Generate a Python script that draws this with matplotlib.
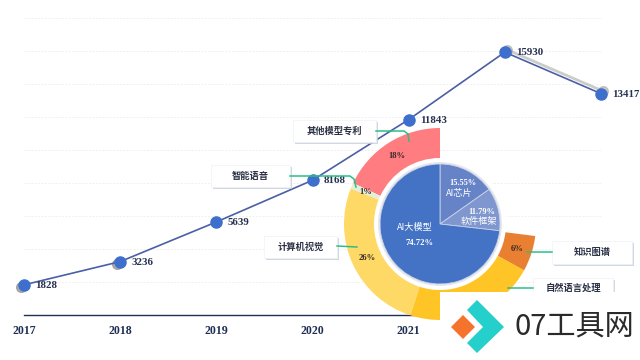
import matplotlib
matplotlib.use('Agg')
import matplotlib.pyplot as plt
import matplotlib.patheffects as pe
from matplotlib.patches import Circle, Polygon, Rectangle
from matplotlib.transforms import ScaledTranslation

plt.rcParams['font.family'] = ['Noto Sans CJK SC', 'DejaVu Sans']

# Patent counts per year
years = ['2017', '2018', '2019', '2020', '2021', '2022', '2023']
patents = [1828, 3236, 5639, 8168, 11843, 15930, 13417]
grid_values = list(range(0, 18001, 2000))

# Outer ring, share of the whole circle (the rest stays empty)
ring_names = ['其他模型专利', '智能语音', '计算机视觉', '自然语言处理', '知识图谱']
ring_shares = [0.18, 0.01, 0.26, 0.22, 0.06]
ring_colors = ['#FF7C80', '#E2F0D9', '#FFD966', '#FFC527', '#E97F30']

# Inner pie
pie_names = ['AI芯片', '软件框架', 'AI大模型']
pie_shares = [15.55, 11.79, 74.72]
pie_colors = ['#6583C6', '#7F97CE', '#4472C4']

W, H = 640, 360
SERIF = 'Liberation Serif'
NAVY = '#1F2F55'
GREEN = '#2DBE85'

fig = plt.figure(figsize=(W / 100, H / 100), dpi=100)


def px_rect(x0, y0, x1, y1):
    return [x0 / W, 1 - y1 / H, (x1 - x0) / W, (y1 - y0) / H]


# Line chart
ax = fig.add_axes(px_rect(24, 18, 601, 315))
x = list(range(len(years)))
shadow = ax.transData + ScaledTranslation(2 / 100, 2.5 / 100, fig.dpi_scale_trans)
ax.plot(x[5:], patents[5:], color='#9A9A9A', lw=2, alpha=0.5, transform=shadow,
        marker='o', ms=7, clip_on=False)
low_shadow = ax.transData + ScaledTranslation(-3 / 100, -2 / 100, fig.dpi_scale_trans)
ax.plot(x[:2], patents[:2], ls='none', color='#8C8C8C', alpha=0.7, transform=low_shadow,
        marker='o', ms=7, clip_on=False)
ax.plot(x, patents, color='#4A5FA5', lw=1.2, marker='o', ms=8, mfc='#3F6FCC',
        mec='#3F6FCC', clip_on=False, zorder=3)
for xi, value in zip(x, patents):
    ax.annotate(str(value), (xi, value), xytext=(8, -0.5), textcoords='offset points',
                va='center', ha='left', fontsize=7.8, fontweight='bold', family=SERIF,
                color='#26304F', zorder=4)
ax.set_xlim(0, len(years) - 1)
ax.set_ylim(0, 18000)
# 2022 and 2023 sit under the watermark in the picture
ax.set_xticks(x[:5])
ax.set_xticklabels(years[:5], fontsize=8.6, fontweight='bold', family=SERIF, color=NAVY)
ax.set_yticks(grid_values)
ax.set_yticklabels([])
ax.tick_params(length=0)
ax.tick_params(axis='x', pad=7)
ax.grid(axis='y', color='#F0F0F0', lw=0.7, ls=(0, (2, 1.5)))
ax.set_axisbelow(True)
for side in ['top', 'left', 'right']:
    ax.spines[side].set_visible(False)
ax.spines['bottom'].set_color(NAVY)
ax.spines['bottom'].set_linewidth(1.0)
ax.patch.set_alpha(0)

# Ring and pie, axes units are pixels around the centre
cx, cy = 440, 224
pie_ax = fig.add_axes(px_rect(cx - 100, cy - 100, cx + 100, cy + 100))
pie_ax.add_patch(Circle((0, 0), 66, fc='white', ec='none'))
pie_ax.pie(ring_shares, colors=ring_colors, radius=96, startangle=90, normalize=False,
           wedgeprops=dict(width=30, lw=0), autopct='%.0f%%', pctdistance=81 / 96,
           textprops=dict(fontsize=6.2, fontweight='bold', family=SERIF, color='#3A2A2A'))
pie_ax.add_patch(Circle((0, 0), 62, fc='#E6E8EC', ec='none'))
pie_ax.pie(pie_shares, colors=pie_colors, radius=60, startangle=90, counterclock=False,
           wedgeprops=dict(lw=0.6, edgecolor='#C9D3EA'))
pie_ax.set_xlim(-100, 100)
pie_ax.set_ylim(-100, 100)
pie_ax.set_aspect('equal')
pie_ax.axis('off')

# Overlay in picture pixels for the callouts and the watermark
over = fig.add_axes([0, 0, 1, 1])
over.set_xlim(0, W)
over.set_ylim(H, 0)
over.axis('off')

white = dict(color='white', ha='center', va='center')
over.text(415, 227, pie_names[2], fontsize=6.6, **white)
over.text(419, 243, f'{pie_shares[2]:.2f}%', fontsize=6.2, fontweight='bold', family=SERIF, **white)
over.text(463, 183, f'{pie_shares[0]:.2f}%', fontsize=6, fontweight='bold', family=SERIF, **white)
over.text(459, 193, pie_names[0], fontsize=6.6, **white)
over.text(482, 212, f'{pie_shares[1]:.2f}%', fontsize=6, fontweight='bold', family=SERIF, **white)
over.text(479, 221, pie_names[1], fontsize=6.6, **white)

callouts = [
    (293, 120, 376, 142, [(376, 131), (404, 131), (408, 134), (409, 141)], ring_names[0]),
    (211, 165, 290, 187, [(290, 176), (350, 176), (354, 179), (356, 187)], ring_names[1]),
    (264, 236, 337, 258, [(337, 246), (357, 247)], ring_names[2]),
    (552, 241, 632, 264, [(527, 252), (552, 252)], ring_names[4]),
    (533, 278, 613, 304, [(508, 288), (533, 288)], ring_names[3]),
]
for x0, y0, x1, y1, link, name in callouts:
    box = Rectangle((x0, y0), x1 - x0, y1 - y0, fc='white', ec='#F0F2F5', lw=0.5)
    box.set_path_effects([pe.SimplePatchShadow(offset=(1.2, -1.2), shadow_rgbFace='#C4CFDE', alpha=0.8),
                          pe.Normal()])
    over.add_patch(box)
    over.plot([p[0] for p in link], [p[1] for p in link], color=GREEN, lw=1.1)
    over.text((x0 + x1) / 2, min((y0 + y1) / 2, 288), name, fontsize=6.7, ha='center', va='center',
              color='#2B3245', fontweight='bold')

# Watermark
over.add_patch(Rectangle((440, 292), 200, 68, fc='white', ec='none', zorder=5))
over.add_patch(Polygon([(463, 315), (475, 327), (463, 339), (451, 327)], fc='#F5732D', ec='none', zorder=6))
over.add_patch(Polygon([(477, 300), (504, 327), (477, 353), (467, 343), (483, 327), (467, 310)],
                       fc='#25CFCB', ec='none', zorder=6))
over.text(515, 327, '07工具网', fontsize=21, ha='left', va='center', color='#2A2A2A',
          fontweight='light', zorder=6)

fig.savefig('out.png', dpi=100)
